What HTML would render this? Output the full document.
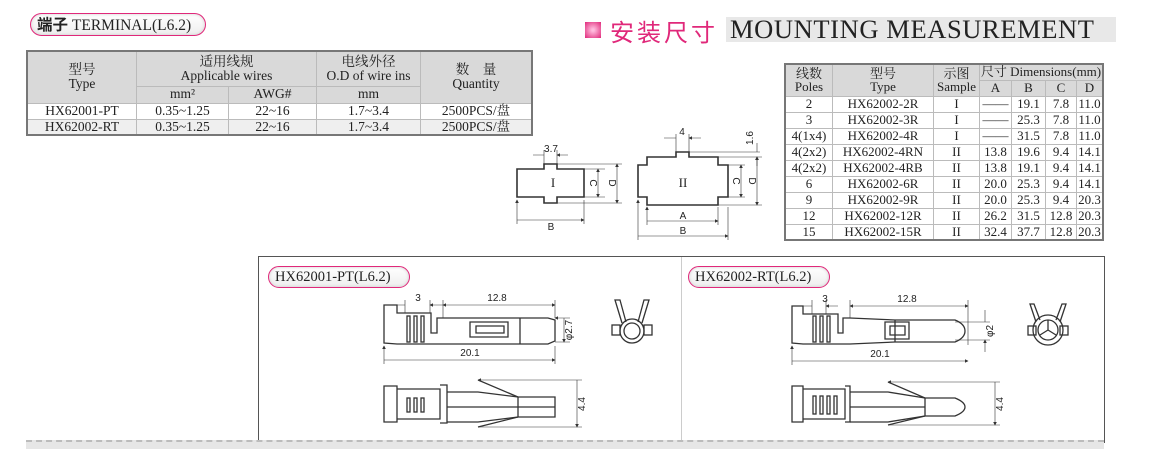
<!DOCTYPE html>
<html><head><meta charset="utf-8"><style>
body{margin:0;width:1156px;height:447px;background:#fff;position:relative;overflow:hidden;font-family:"Liberation Serif","Noto Serif CJK SC",serif;color:#222}
.abs{position:absolute}
table{border-collapse:collapse;position:absolute;font-size:13.5px;text-align:center;line-height:1.05}
td{border:1px solid #bbb;padding:0;white-space:nowrap}
.pill{position:absolute;border:1.5px solid #e0287a;border-radius:12px;background:linear-gradient(#fff,#eee);font-size:14.5px;padding:0 6px;line-height:20px;box-shadow:inset 0 0 3px #ccc}
</style></head><body>
<div class="pill" style="left:30px;top:13px;width:162px;height:21px;font-size:15.5px;"><span style="font-family:'Noto Sans CJK SC',sans-serif;font-weight:bold">端子</span> TERMINAL(L6.2)</div>

<table style="left:26px;top:50px;width:507px;border:2px solid #777">
<tr style="background:#d9d9d9;height:35px"><td rowspan="2" style="width:108px">型号<br>Type</td><td colspan="2">适用线规<br>Applicable wires</td><td>电线外径<br>O.D of wire ins</td><td rowspan="2" style="width:110px">数　量<br>Quantity</td></tr>
<tr style="background:#d9d9d9;height:17px"><td style="width:91px">mm²</td><td style="width:87px">AWG#</td><td style="width:103px">mm</td></tr>
<tr style="height:16px"><td>HX62001-PT</td><td>0.35~1.25</td><td>22~16</td><td>1.7~3.4</td><td>2500PCS/盘</td></tr>
<tr style="height:16px;background:#efefef"><td>HX62002-RT</td><td>0.35~1.25</td><td>22~16</td><td>1.7~3.4</td><td>2500PCS/盘</td></tr>
</table>

<div class="abs" style="left:585px;top:22px;width:16px;height:16px;background:radial-gradient(#fbd 10%,#e0287a)"></div>
<div class="abs" style="left:610px;top:15px;font-size:24px;color:#e0287a;font-family:'Noto Sans CJK SC',sans-serif;letter-spacing:3px;line-height:32px">安装尺寸</div>
<div class="abs" style="left:726px;top:17px;width:390px;height:25px;background:#e8e8e8"></div>
<div class="abs" style="left:730px;top:14px;font-size:26.5px;line-height:30px;letter-spacing:0.6px">MOUNTING MEASUREMENT</div>

<table style="left:784px;top:63px;width:320px;border:2px solid #777;font-size:13px">
<tr style="background:#d9d9d9;height:16px"><td rowspan="2" style="width:46px">线数<br>Poles</td><td rowspan="2" style="width:100px">型号<br>Type</td><td rowspan="2" style="width:45px">示图<br>Sample</td><td colspan="4">尺寸 Dimensions(mm)</td></tr>
<tr style="background:#d9d9d9;height:16px"><td style="width:31px">A</td><td style="width:33px">B</td><td style="width:30px">C</td><td>D</td></tr>
<tr style="height:16px"><td>2</td><td>HX62002-2R</td><td>I</td><td>——</td><td>19.1</td><td>7.8</td><td>11.0</td></tr>
<tr style="height:16px"><td>3</td><td>HX62002-3R</td><td>I</td><td>——</td><td>25.3</td><td>7.8</td><td>11.0</td></tr>
<tr style="height:16px"><td>4(1x4)</td><td>HX62002-4R</td><td>I</td><td>——</td><td>31.5</td><td>7.8</td><td>11.0</td></tr>
<tr style="height:16px"><td>4(2x2)</td><td>HX62002-4RN</td><td>II</td><td>13.8</td><td>19.6</td><td>9.4</td><td>14.1</td></tr>
<tr style="height:16px"><td>4(2x2)</td><td>HX62002-4RB</td><td>II</td><td>13.8</td><td>19.1</td><td>9.4</td><td>14.1</td></tr>
<tr style="height:16px"><td>6</td><td>HX62002-6R</td><td>II</td><td>20.0</td><td>25.3</td><td>9.4</td><td>14.1</td></tr>
<tr style="height:16px"><td>9</td><td>HX62002-9R</td><td>II</td><td>20.0</td><td>25.3</td><td>9.4</td><td>20.3</td></tr>
<tr style="height:16px"><td>12</td><td>HX62002-12R</td><td>II</td><td>26.2</td><td>31.5</td><td>12.8</td><td>20.3</td></tr>
<tr style="height:16px"><td>15</td><td>HX62002-15R</td><td>II</td><td>32.4</td><td>37.7</td><td>12.8</td><td>20.3</td></tr>
</table>

<!-- bottom panel -->
<div class="abs" style="left:258px;top:256px;width:845px;height:186px;border:1.5px solid #555;border-bottom:none"></div>
<div class="abs" style="left:681px;top:257px;width:1px;height:184px;background:#ccc"></div>
<div class="abs" style="left:26px;top:440px;width:1078px;height:7px;background:#e6e6e6;border-top:2px dashed #bbb"></div>
<div class="pill" style="left:268px;top:266px;width:128px;height:20px">HX62001-PT(L6.2)</div>
<div class="pill" style="left:688px;top:266px;width:128px;height:20px">HX62002-RT(L6.2)</div>

<svg class="abs" style="left:0;top:0" width="1156" height="447" font-family="Liberation Sans,sans-serif" font-size="10" fill="none" stroke="#333" stroke-width="1">
<defs><marker id="a" markerWidth="6" markerHeight="6" refX="5" refY="3" orient="auto-start-reverse"><path d="M0,0L6,3L0,6z" fill="#333" stroke="none"/></marker></defs>
<path d="M517,169H544V164H557V169H584V197H557V203H544V197H517Z" stroke-width="1.6"/>
<text x="553" y="187" fill="#222" stroke="none" font-family="Liberation Serif" font-size="13" text-anchor="middle">I</text>
<g stroke-width="0.6">
<path d="M533,155H544M568,155H557" marker-end="url(#a)"/><path d="M544,150V164M557,150V164"/>
<path d="M584,169H605M584,197H605M557,164H622M557,203H622"/>
<path d="M598,169V197" marker-start="url(#a)" marker-end="url(#a)"/>
<path d="M617,164V203" marker-start="url(#a)" marker-end="url(#a)"/>
<path d="M517,200V224M584,200V224M517,220H584" marker-start="url(#a)" marker-end="url(#a)"/>
</g>
<text x="551" y="152" fill="#222" stroke="none" text-anchor="middle">3.7</text>
<text x="551" y="230" fill="#222" stroke="none" text-anchor="middle">B</text>
<text transform="translate(590,183) rotate(90)" fill="#222" stroke="none" text-anchor="middle">C</text>
<text transform="translate(609,183) rotate(90)" fill="#222" stroke="none" text-anchor="middle">D</text>
<path d="M638,165H647V157H676V152H689V157H718V165H728V197H718V205H647V197H638Z" stroke-width="1.6"/>
<text x="683" y="187" fill="#222" stroke="none" font-family="Liberation Serif" font-size="13" text-anchor="middle">II</text>
<g stroke-width="0.6">
<path d="M664,138H676M701,138H689" marker-end="url(#a)"/><path d="M676,134V152M689,134V152"/>
<path d="M689,152H760M718,157H762M728,165H745M728,197H745M718,205H762"/>
<path d="M757,143V152M757,166V157" marker-end="url(#a)"/>
<path d="M741,165V197" marker-start="url(#a)" marker-end="url(#a)"/>
<path d="M757,157V205" marker-start="url(#a)" marker-end="url(#a)"/>
<path d="M647,207V225M718,207V225M647,221H718" marker-start="url(#a)" marker-end="url(#a)"/>
<path d="M638,200V240M728,207V240M638,236H728" marker-start="url(#a)" marker-end="url(#a)"/>
</g>
<text x="682" y="135" fill="#222" stroke="none" text-anchor="middle">4</text>
<text transform="translate(753,138) rotate(-90)" fill="#222" stroke="none" text-anchor="middle">1.6</text>
<text x="683" y="219" fill="#222" stroke="none" text-anchor="middle">A</text>
<text x="683" y="234" fill="#222" stroke="none" text-anchor="middle">B</text>
<text transform="translate(733,181) rotate(90)" fill="#222" stroke="none" text-anchor="middle">C</text>
<text transform="translate(749,181) rotate(90)" fill="#222" stroke="none" text-anchor="middle">D</text>

<g stroke-width="1.3">
<path d="M384,305H397V313H431V333H437V318H443L520,318H548L555,320V341L548,344H443L397,344L384,343Z"/>
<rect x="407" y="316" width="3" height="26"/><rect x="414" y="316" width="3" height="26"/><rect x="421" y="316" width="3" height="26"/>
<path d="M470,322H508V337H470ZM476,326H504V333H476Z"/>
<path d="M520,318V344"/>
</g>
<g stroke-width="0.6">
<path d="M392,305H405M443,305H430" marker-end="url(#a)"/><path d="M405,300V313M430,300V313"/>
<path d="M443,305H555" marker-start="url(#a)" marker-end="url(#a)"/><path d="M443,300V318M555,300V318"/>
<path d="M384,346V364M555,346V364M384,360H555" marker-start="url(#a)" marker-end="url(#a)"/>
<path d="M555,318H570M555,342H570M564,318V342" marker-start="url(#a)" marker-end="url(#a)"/>
</g>
<text x="418" y="301" fill="#222" stroke="none" text-anchor="middle">3</text>
<text x="497" y="301" fill="#222" stroke="none" text-anchor="middle">12.8</text>
<text x="470" y="356" fill="#222" stroke="none" text-anchor="middle">20.1</text>
<text transform="translate(572,330) rotate(-90)" fill="#222" stroke="none" text-anchor="middle">φ2.7</text>
<g stroke-width="1.3">
<circle cx="632" cy="331" r="12"/><circle cx="632" cy="331" r="8"/>
<path d="M622,323L615,300L620,300L626,322M642,323L649,300L644,300L638,322"/>
<rect x="612" y="325" width="8" height="10"/><rect x="644" y="325" width="8" height="10"/>
</g>
<g stroke-width="1.3">
<path d="M384,386H397V422H384Z"/>
<path d="M397,389H440V419H397"/><path d="M440,385H447V423H440"/>
<path d="M447,392H478L518,397H555V417H518L478,422H447"/>
<path d="M478,380L518,397M478,427L518,417M447,407H555M518,397V417"/>
<rect x="407" y="398" width="3" height="14"/><rect x="414" y="398" width="3" height="14"/><rect x="421" y="398" width="3" height="14"/>
</g>
<g stroke-width="0.6"><path d="M478,380H582M478,427H582M577,380V427" marker-start="url(#a)" marker-end="url(#a)"/></g>
<text transform="translate(585,404) rotate(-90)" fill="#222" stroke="none" text-anchor="middle">4.4</text>

<g stroke-width="1.3">
<path d="M792,306H803V314H838V333H843V318H850L895,320H955Q965,324 965,331Q965,338 955,342H895L850,344H803L792,343Z"/>
<rect x="813" y="316" width="3" height="26"/><rect x="820" y="316" width="3" height="26"/><rect x="827" y="316" width="3" height="26"/>
<path d="M885,322H909V339H885ZM890,326H905V335H890Z"/>
<path d="M895,320V342"/>
</g>
<g stroke-width="0.6">
<path d="M800,306H812M838,306H826" marker-end="url(#a)"/><path d="M812,300V314M826,300V314"/>
<path d="M850,306H968" marker-start="url(#a)" marker-end="url(#a)"/><path d="M850,300V318M968,300V345"/>
<path d="M792,346V365M792,361H968" marker-start="url(#a)" marker-end="url(#a)"/>
<path d="M955,322H990M955,340H990M985,310V322M985,352V340" marker-end="url(#a)"/>
</g>
<text x="825" y="302" fill="#222" stroke="none" text-anchor="middle">3</text>
<text x="907" y="302" fill="#222" stroke="none" text-anchor="middle">12.8</text>
<text x="880" y="357" fill="#222" stroke="none" text-anchor="middle">20.1</text>
<text transform="translate(993,331) rotate(-90)" fill="#222" stroke="none" text-anchor="middle">φ2</text>
<g stroke-width="1.3">
<circle cx="1048" cy="330" r="15"/><circle cx="1048" cy="330" r="10"/>
<path d="M1048,330V320M1048,330L1040,335M1048,330L1056,335"/>
<path d="M1036,322L1030,304L1034,304L1040,320M1060,322L1066,304L1062,304L1056,320"/>
<rect x="1028" y="326" width="8" height="9"/><rect x="1060" y="326" width="8" height="9"/>
</g>
<g stroke-width="1.3">
<path d="M792,386H803V422H792Z"/>
<path d="M803,389H845V419H803"/><path d="M845,386H850V422H845"/>
<path d="M850,392H888L925,398H955Q965,402 965,407Q965,412 955,416H925L888,422H850"/>
<path d="M888,382L925,398M888,425L925,416M850,407H925M925,398V416"/>
<rect x="813" y="396" width="3" height="18"/><rect x="820" y="396" width="3" height="18"/><rect x="827" y="396" width="3" height="18"/><rect x="834" y="396" width="3" height="18"/>
</g>
<g stroke-width="0.6"><path d="M888,382H1000M888,425H1000M995,382V425" marker-start="url(#a)" marker-end="url(#a)"/></g>
<text transform="translate(1003,404) rotate(-90)" fill="#222" stroke="none" text-anchor="middle">4.4</text>
</svg>
</body></html>
